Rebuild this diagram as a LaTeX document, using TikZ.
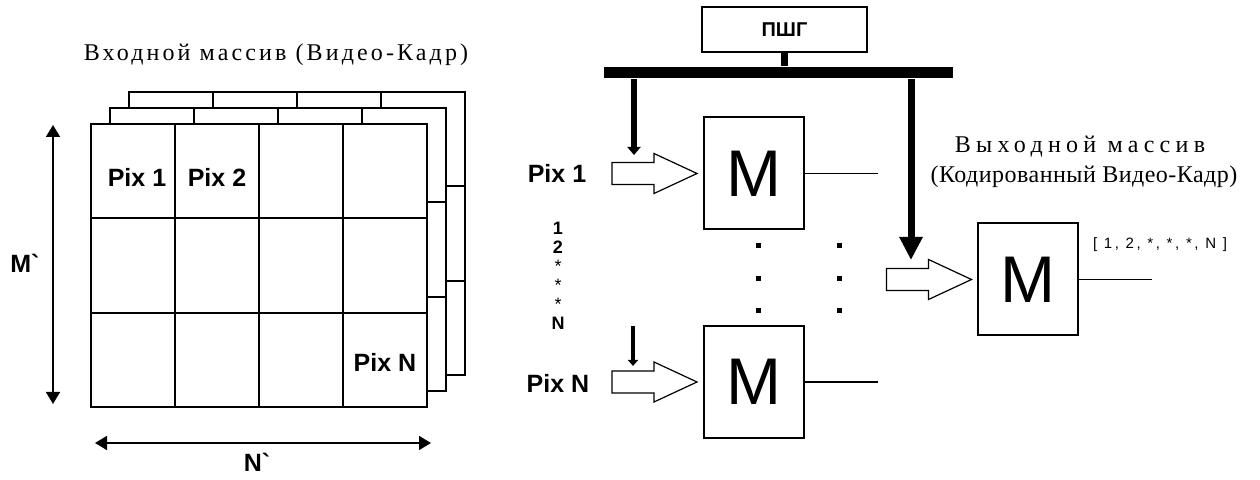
\documentclass[tikz,border=0pt]{standalone}
\usepackage{fontspec}
\setmainfont{Liberation Serif}
\setsansfont{Liberation Sans}
\usetikzlibrary{arrows.meta,positioning}

\begin{document}
\begin{tikzpicture}[x=0.5pt,y=-0.5pt,line width=1pt,
  pix/.style={font=\sffamily\bfseries\fontsize{12.5}{14}\selectfont},
  caption/.style={font=\fontsize{12}{14}\selectfont},
  mbox/.style={draw,minimum width=50pt,minimum height=56pt,inner sep=0pt,
    font=\sffamily\fontsize{33}{36}\selectfont},
  hollow/.style={draw,fill=white,line width=0.6pt,line join=miter},
  dim/.style={line width=0.8pt,{Triangle[width=7pt,length=6pt]}-{Triangle[width=7pt,length=6pt]}},
  wire/.style={line width=0.7pt}]
  \useasboundingbox (0,0) rectangle (1260,480);

  % Input array: three frames, back to front
  \foreach \d in {2,1,0} {
    \begin{scope}[shift={(19*\d,-16*\d)}]
      \draw[fill=white] (91,124) rectangle (427,407);
      \foreach \i in {1,2,3} \draw (91+84*\i,124) -- (91+84*\i,407);
      \foreach \j in {1,2} \draw (91,124+94.33*\j) -- (427,124+94.33*\j);
    \end{scope}
  }
  \node[caption] (tin) at (276,55) {\addfontfeature{LetterSpace=13}Входной массив (Видео-Кадр)};
  \node[pix] (cell1) at (137,177) {Pix 1};
  \node[pix] (cell2) at (217,177) {Pix 2};
  \node[pix] (cellN) at (385,362) {Pix N};

  % Frame size
  \coordinate (mtop) at (53,125);
  \coordinate (mbot) at (53,404);
  \draw[dim] (mtop) -- (mbot);
  \node[pix] (msize) at (25,263) {M\textasciigrave};
  \coordinate (nleft) at (95,443);
  \coordinate (nright) at (431,443);
  \draw[dim] (nleft) -- (nright);
  \node[pix] (nsize) at (257,462) {N\textasciigrave};

  % Generator and bus
  \node[draw,minimum width=82.5pt,minimum height=22.5pt,inner sep=0pt,
    font=\sffamily\bfseries\fontsize{10}{12}\selectfont] (psg) at (784.5,29.5) {ПШГ};
  \node[fill,minimum width=174.5pt,minimum height=5.5pt,inner sep=0pt] (bus) at (778.5,72.5) {};
  \draw[line width=3.5pt] (psg.south) -- (psg.south |- bus.north);

  % Modulators
  \node[mbox] (m1) at (754,173.5) {M};
  \node[mbox] (mN) at (754,382) {M};
  \node[mbox] (mout) at (1027.5,279.5) {M};
  \coordinate[left=3pt of m1.west] (t1);
  \coordinate[left=3pt of mN.west] (tN);
  \coordinate[left=2.5pt of mout.west] (tout);
  \foreach \t in {t1,tN,tout}
    \draw[hollow] (\t) -- ++(-43,-20) -- ++(0,9) -- ++(-42,0) -- ++(0,22)
      -- ++(42,0) -- ++(0,9) -- cycle;
  \foreach \m in {m1,mN,mout} {
    \coordinate[right=36.5pt of \m.east] (o\m);
    \draw[wire] (\m.east) -- (o\m);
  }

  % Code feeds
  \coordinate (f1) at (634,155);
  \coordinate (fout) at (911,260);
  \coordinate (fNtop) at (633,326);
  \coordinate (fN) at (633,366);
  \draw[line width=3pt,-{Triangle[width=6.5pt,length=4pt]}] (f1 |- bus.south) -- (f1);
  \draw[line width=3.5pt,-{Triangle[width=11pt,length=11.5pt]}] (fout |- bus.south) -- (fout);
  \draw[line width=2.2pt,-{Triangle[width=5pt,length=3pt]}] (fNtop) -- (fN);

  % Inputs
  \node[pix] (in1) at (557,173) {Pix 1};
  \node[pix] (inN) at (558,383) {Pix N};
  \node[align=center,font=\sffamily\bfseries\fontsize{9}{9.5}\selectfont] (idx) at (558,276)
    {1\\2\\{\mdseries *}\\{\mdseries *}\\{\mdseries *}\\N};
  \foreach \x in {758,839}
    \foreach \y in {246,279,311}
      \fill (\x-2.5,\y-2.5) rectangle (\x+2.5,\y+2.5);

  % Output array
  \node[caption] (tout1) at (1080,147) {\addfontfeature{LetterSpace=22}Выходной массив};
  \node[caption] (tout2) at (1084,177) {\addfontfeature{LetterSpace=2}(Кодированный Видео-Кадр)};
  \node[font=\sffamily\fontsize{7.5}{9}\selectfont] (code) at (1160,245)
    {\addfontfeature{LetterSpace=17}[ 1, 2, *, *, *, N ]};
\end{tikzpicture}
\end{document}
